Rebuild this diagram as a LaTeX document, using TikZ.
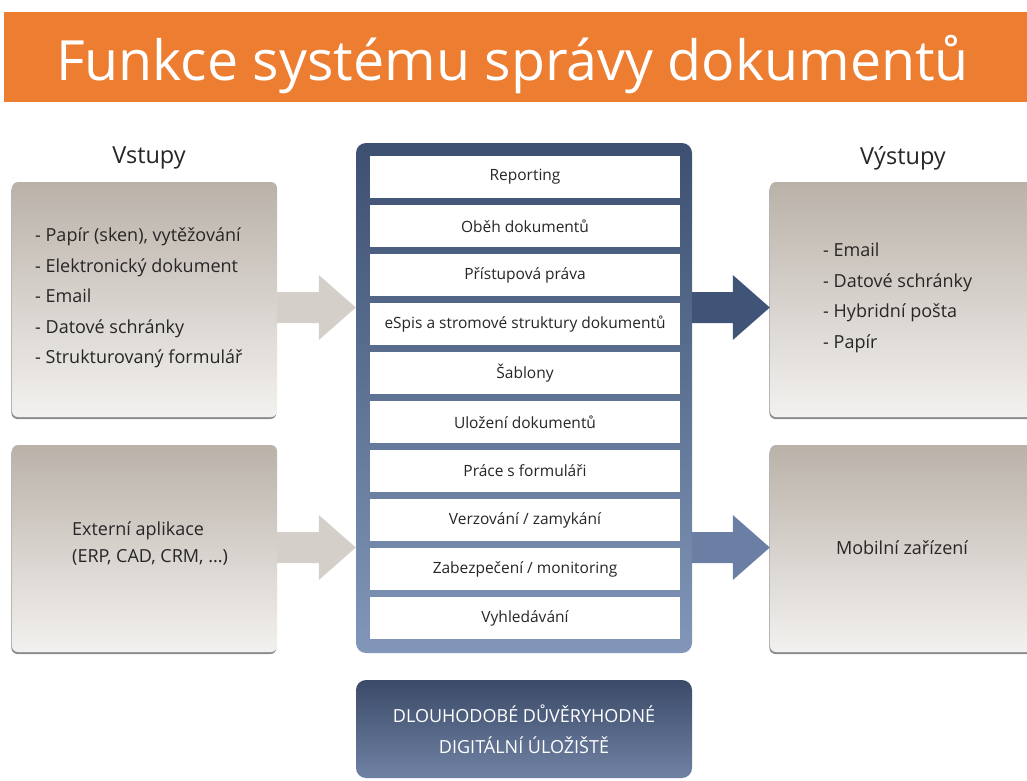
\documentclass[tikz,border=0pt]{standalone}
\usepackage{fontspec}
\setmainfont{Open Sans}
\usetikzlibrary{calc,shadows}

\definecolor{titleorange}{HTML}{ED7D31}
\definecolor{paneltop}{HTML}{BAB2A9}
\definecolor{panelbottom}{HTML}{F3F1EF}
\definecolor{greyarrow}{HTML}{D5CFC9}
\definecolor{frametop}{HTML}{3D5072}
\definecolor{framebottom}{HTML}{8196B8}
\definecolor{storetop}{HTML}{3B4A68}
\definecolor{storebottom}{HTML}{7082A4}
\definecolor{darkarrow}{HTML}{3F5476}
\definecolor{lightarrow}{HTML}{6A7FA3}
\definecolor{ink}{HTML}{262626}

\tikzset{
  panel/.style={rectangle, rounded corners=6pt, inner sep=0pt,
    top color=paneltop, bottom color=panelbottom,
    drop shadow={shadow xshift=-0.6pt, shadow yshift=-2pt, fill=black!60, opacity=0.75}},
  heading/.style={font=\fontsize{23.5}{28}\selectfont, text=ink},
  listtext/.style={font=\fontsize{18}{30.5}\selectfont, text=ink, align=left, inner sep=0pt},
  rowbox/.style={rectangle, fill=white, minimum width=310pt, minimum height=42pt,
    inner sep=0pt, font=\fontsize{15.5}{18}\selectfont, text=ink},
  fatarrow/.style={to path={++(0,-15.5)
      -- ($(\tikztotarget)+(-37,-15.5)$) -- ($(\tikztotarget)+(-37,-32.5)$)
      -- (\tikztotarget)
      -- ($(\tikztotarget)+(-37,32.5)$) -- ($(\tikztotarget)+(-37,15.5)$)
      -- ($(\tikztostart)+(0,15.5)$) -- cycle}},
}

\begin{document}
\begin{tikzpicture}[x=1pt, y=-1pt]
\useasboundingbox (0,0) rectangle (1027,780);

% title bar
\fill[titleorange] (4,12) rectangle (1027,102);
\node[anchor=base, text=white, inner sep=0pt, font=\fontsize{55.5}{60}\selectfont]
  (title) at (512.5,80) {Funkce systému správy dokumentů};

% column headings
\node[heading] (hin) at (149,158) {Vstupy};
\node[heading] (hout) at (903,158) {Výstupy};

% input and output panels
\node[panel, minimum width=265pt, minimum height=235pt] (in1) at (144.5,299.5) {};
\node[panel, minimum width=265pt, minimum height=207pt] (in2) at (144.5,548.5) {};
\node[panel, minimum width=270pt, minimum height=235pt] (out1) at (905,299.5) {};
\node[panel, minimum width=270pt, minimum height=207pt] (out2) at (905,548.5) {};

\node[listtext, anchor=west] (in1txt) at (35,298)
  {- Papír (sken), vytěžování\\- Elektronický dokument\\- Email\\- Datové schránky\\- Strukturovaný formulář};
\node[listtext, anchor=west, font=\fontsize{18}{27}\selectfont] (in2txt) at (72,544)
  {Externí aplikace\\(ERP, CAD, CRM, ...)};
\node[listtext, anchor=west] (out1txt) at (823,298)
  {- Email\\- Datové schránky\\- Hybridní pošta\\- Papír};
\node[listtext] (out2txt) at (902,548) {Mobilní zařízení};

% central frame with the functions
\node[rectangle, rounded corners=10pt, top color=frametop, bottom color=framebottom,
  minimum width=336pt, minimum height=510pt, inner sep=0pt] (core) at (524,398) {};

\foreach \i/\label in {1/{Reporting}, 2/{Oběh dokumentů}, 3/{Přístupová práva},
    4/{eSpis a stromové struktury dokumentů}, 5/{Šablony}, 6/{Uložení dokumentů},
    7/{Práce s formuláři}, 8/{Verzování / zamykání}, 9/{Zabezpečení / monitoring},
    10/{Vyhledávání}}
  \node[rowbox] (r\i) at (525,{177+(\i-1)*49}) {\label};

% long-term storage
\node[rectangle, rounded corners=10pt, top color=storetop, bottom color=storebottom,
  minimum width=336pt, minimum height=98pt, inner sep=0pt, text=white, align=center,
  font=\fontsize{18}{31}\selectfont] (store) at (524,729)
  {DLOUHODOBÉ DŮVĚRYHODNÉ\\DIGITÁLNÍ ÚLOŽIŠTĚ};

% arrows between panels and the frame
\coordinate (a1s) at (in1.east |- 0,307.5);
\coordinate (a1e) at (core.west |- 0,307.5);
\coordinate (a2s) at (in2.east |- 0,547.5);
\coordinate (a2e) at (core.west |- 0,547.5);
\coordinate (b1s) at (core.east |- 0,307.5);
\coordinate (b1e) at (out1.west |- 0,307.5);
\coordinate (b2s) at (core.east |- 0,547.5);
\coordinate (b2e) at (out2.west |- 0,547.5);

\fill[greyarrow] (a1s) to[fatarrow] (a1e);
\fill[greyarrow] (a2s) to[fatarrow] (a2e);
\fill[darkarrow] (b1s) to[fatarrow] (b1e);
\fill[lightarrow] (b2s) to[fatarrow] (b2e);
\end{tikzpicture}
\end{document}
